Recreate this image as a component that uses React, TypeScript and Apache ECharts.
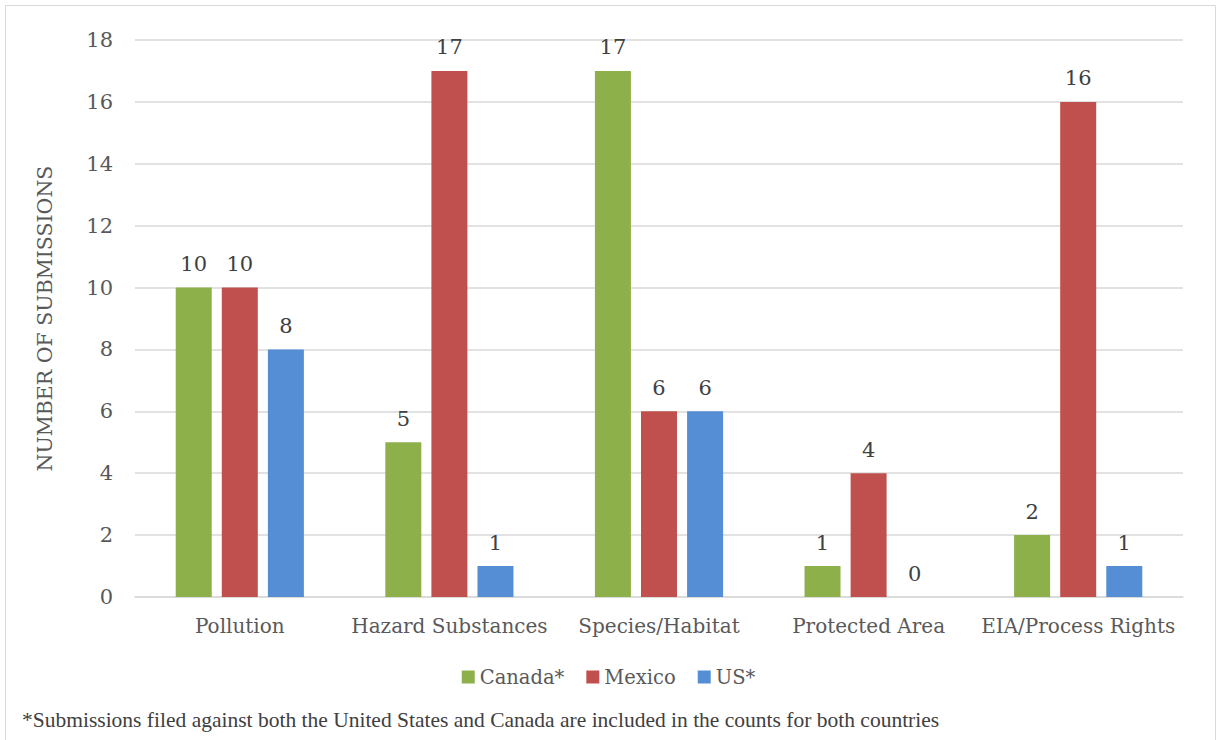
import React, { useEffect, useRef } from "react";
import * as echarts from "echarts";

const categories = ["Pollution", "Hazard Substances", "Species/Habitat", "Protected Area", "EIA/Process Rights"];
const seriesNames = ["Canada*", "Mexico", "US*"];
const canada = [10, 5, 17, 1, 2];
const mexico = [10, 17, 6, 4, 16];
const us = [8, 1, 6, 0, 1];
const colors = ["#8DB04A", "#C0504D", "#558ED5"];
const yTitle = "NUMBER OF SUBMISSIONS";
const footnote = "*Submissions filed against both the United States and Canada are included in the counts for both countries";

const FONT = "'DejaVu Serif', serif";

export default function App() {
  const ref = useRef<HTMLDivElement>(null);
  useEffect(() => {
    const chart = echarts.init(ref.current!, null, { renderer: "svg" });
    const values = [canada, mexico, us];
    chart.setOption({
      animation: false,
      textStyle: { fontFamily: FONT },
      grid: { left: 135, right: 34, top: 40, bottom: 143 },
      legend: {
        bottom: 48,
        left: "center",
        itemWidth: 13,
        itemHeight: 13,
        itemGap: 22,
        icon: "rect",
        textStyle: { fontFamily: FONT, fontSize: 19.5, color: "#595959" },
        data: seriesNames,
      },
      xAxis: {
        type: "category",
        data: categories,
        axisLine: { lineStyle: { color: "#D9D9D9", width: 1.5 } },
        axisTick: { show: false },
        axisLabel: { fontFamily: FONT, fontSize: 20, color: "#595959", margin: 19, interval: 0 },
      },
      yAxis: {
        type: "value",
        min: 0,
        max: 18,
        interval: 2,
        name: yTitle,
        nameLocation: "middle",
        nameGap: 80,
        nameTextStyle: { fontFamily: FONT, fontSize: 20.5, color: "#595959" },
        axisLine: { show: false },
        axisTick: { show: false },
        axisLabel: { fontFamily: FONT, fontSize: 21, color: "#595959", margin: 22 },
        splitLine: { lineStyle: { color: "#D9D9D9", width: 1.5 } },
      },
      series: seriesNames.map((name, i) => ({
        name,
        type: "bar",
        data: values[i],
        barWidth: 36,
        barGap: "28%",
        itemStyle: { color: colors[i] },
        label: {
          show: true,
          position: "top",
          distance: 13,
          fontFamily: FONT,
          fontSize: 21,
          color: "#404040",
        },
      })),
      graphic: [
        {
          type: "rect",
          shape: { x: 5.5, y: 5.5, width: 1210, height: 740 },
          style: { fill: "none", stroke: "#D9D9D9", lineWidth: 1 },
          silent: true,
        },
        {
          type: "text",
          left: 22,
          top: 709,
          style: {
            text: footnote,
            font: "21.5px 'Liberation Serif', serif",
            fill: "#404040",
          },
        },
      ],
    });
    return () => chart.dispose();
  }, []);
  return <div ref={ref} style={{ position: "fixed", left: 0, top: 0, width: 1217, height: 740, background: "#fff" }} />;
}
